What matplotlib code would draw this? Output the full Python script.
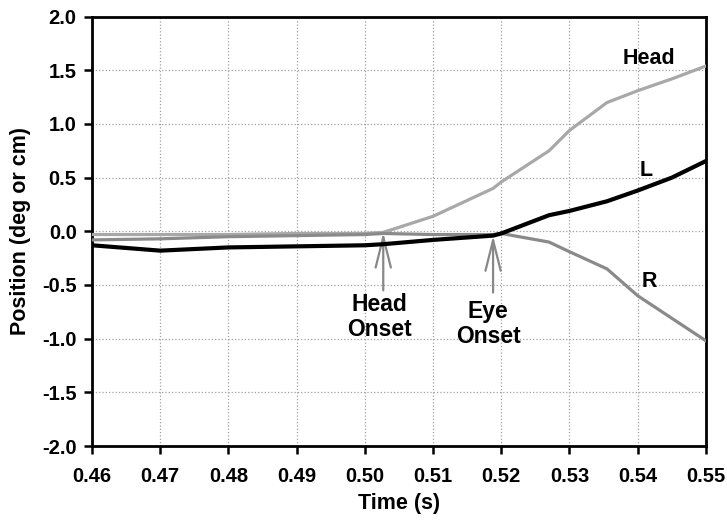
import matplotlib.pyplot as plt

plt.rcParams['font.family'] = ['Liberation Sans', 'DejaVu Sans']
plt.rcParams['font.weight'] = 'bold'
plt.rcParams['axes.labelweight'] = 'bold'
plt.rcParams['xtick.labelsize'] = 14.5
plt.rcParams['ytick.labelsize'] = 14.5

time = [0.46, 0.47, 0.48, 0.49, 0.50, 0.5027, 0.51, 0.5188, 0.52,
        0.527, 0.53, 0.5355, 0.54, 0.545, 0.55]
head = [-0.03, -0.03, -0.03, -0.02, -0.02, -0.01, 0.14, 0.40, 0.46,
        0.75, 0.94, 1.20, 1.31, 1.42, 1.54]
left = [-0.13, -0.18, -0.15, -0.14, -0.13, -0.12, -0.08, -0.04, -0.02,
        0.15, 0.19, 0.28, 0.38, 0.50, 0.655]
right = [-0.08, -0.07, -0.05, -0.04, -0.03, -0.02, -0.03, -0.03, -0.02,
         -0.10, -0.19, -0.35, -0.60, -0.81, -1.02]

xticks = [0.46, 0.47, 0.48, 0.49, 0.50, 0.51, 0.52, 0.53, 0.54, 0.55]
yticks = [-2.0, -1.5, -1.0, -0.5, 0.0, 0.5, 1.0, 1.5, 2.0]

# label, arrow tip, arrow tail y, text centre
onsets = [('Head\nOnset', (0.5027, -0.01), -0.55, (0.5021, -0.80)),
          ('Eye\nOnset', (0.5188, -0.04), -0.57, (0.5181, -0.86))]

fig = plt.figure(figsize=(7.27, 5.2), dpi=100)
ax = fig.add_axes([0.1265, 0.1423, 0.8445, 0.8257])

ax.plot(time, head, color='#a8a8a8', lw=2.3, zorder=3)
ax.plot(time, right, color='#8a8a8a', lw=2.3, zorder=3)
ax.plot(time, left, color='black', lw=3, zorder=4)

ax.text(0.5417, 1.606, 'Head', ha='center', va='center', fontsize=15.5)
ax.text(0.5413, 0.568, 'L', ha='center', va='center', fontsize=15.5)
ax.text(0.5417, -0.47, 'R', ha='center', va='center', fontsize=15.5)

for lab, tip, tail, pos in onsets:
    ax.annotate('', xy=tip, xytext=(tip[0], tail),
                arrowprops=dict(arrowstyle='->,head_length=2.2,head_width=0.55',
                                color='#888888', lw=1.6, mutation_scale=10,
                                shrinkA=0, shrinkB=0))
    ax.text(pos[0], pos[1], lab, ha='center', va='center',
            fontsize=16.5, linespacing=1.1)

ax.set_xlim(0.46, 0.55)
ax.set_ylim(-2.0, 2.0)
ax.set_xticks(xticks)
ax.set_xticklabels(['%.2f' % v for v in xticks], fontsize=14.5, fontweight='bold')
ax.set_yticks(yticks)
ax.set_yticklabels(['%.1f' % v for v in yticks], fontsize=14.5, fontweight='bold')
ax.tick_params(width=1.8, length=6, direction='out')
ax.tick_params(axis='x', pad=9)
ax.tick_params(axis='y', pad=5)
ax.grid(True, color='#a0a0a0', ls=':', lw=0.9)
for s in ax.spines.values():
    s.set_linewidth(2)
ax.set_xlabel('Time (s)', fontsize=15.5, labelpad=5)
ax.set_ylabel('Position (deg or cm)', fontsize=15.5, labelpad=8)

fig.savefig('out.png', dpi=100)
